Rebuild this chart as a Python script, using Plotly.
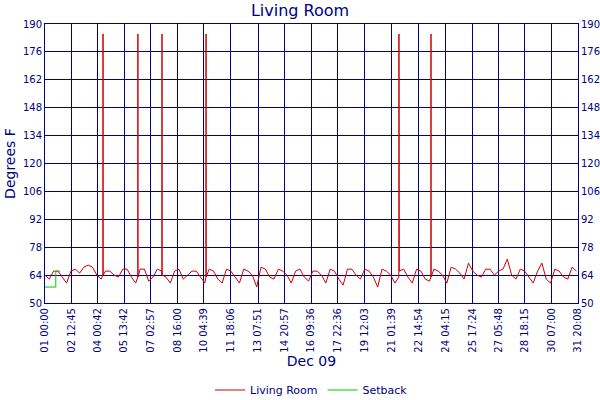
import plotly.graph_objects as go
import pandas as pd

start = pd.Timestamp("2009-12-01 00:00")
# readings every 6 hours (Dec 1 00:00 ... Dec 31 18:00)
temps = [
 64,62,66,66, 63,60,66,67, 65,68,69,68, 64,62,66,66, 64,63,67,67,
 63,60,67,67, 61,63,67,66, 63,60,66,67, 62,64,66,66, 63,60,67,66,
 62,60,67,66, 63,60,67,66, 64,58,68,67, 63,62,67,66, 64,60,66,67,
 63,61,66,66, 64,60,67,66, 62,59,67,67, 64,62,67,66, 63,58,67,66,
 64,60,66,67, 63,60,67,66, 62,61,67,66, 64,60,68,67, 65,62,70,66,
 64,63,67,67, 64,66,67,72, 64,62,67,66, 63,60,66,70, 62,60,67,66,
 63,62,68,66,
]
times = [start + pd.Timedelta(hours=6*i) for i in range(len(temps))]

spike_times = ["2009-12-04 08:36", "2009-12-06 09:00", "2009-12-07 18:30",
               "2009-12-10 07:40", "2009-12-21 11:30", "2009-12-23 08:00"]
spike_values = [185, 185, 185, 185, 185, 185]
spike_base = [64, 63, 64, 63, 63, 63]

xs = [(t, v) for t, v in zip(times, temps)]
for st, sv, sb in zip(spike_times, spike_values, spike_base):
    t = pd.Timestamp(st)
    xs += [(t - pd.Timedelta(minutes=10), sb), (t, sv), (t + pd.Timedelta(minutes=10), sb)]
xs.sort(key=lambda p: p[0])

setback_times = ["2009-12-01 00:00", "2009-12-01 15:00", "2009-12-01 15:00", "2009-12-01 21:00"]
setback_values = [58, 58, 66, 66]

tick_labels = ["01 00:00","02 12:45","04 00:42","05 13:42","07 02:57","08 16:00","10 04:39",
               "11 18:06","13 07:51","14 20:57","16 09:36","17 22:36","19 12:03","21 01:39",
               "22 14:54","24 04:15","25 17:24","27 05:48","28 18:15","30 07:00","31 20:08"]
tick_vals = [pd.Timestamp("2009-12-" + l[:2] + " " + l[3:]) for l in tick_labels]
yticks = [50, 64, 78, 92, 106, 120, 134, 148, 162, 176, 190]

navy = "#000080"
fig = go.Figure()
fig.add_trace(go.Scatter(x=[p[0] for p in xs], y=[p[1] for p in xs], mode="lines",
                         name="Living Room", line=dict(color="#cc0000", width=1)))
fig.add_trace(go.Scatter(x=pd.to_datetime(setback_times), y=setback_values, mode="lines",
                         name="Setback", line=dict(color="#00cc00", width=1)))
fig.add_trace(go.Scatter(x=[tick_vals[0]], y=[None], yaxis="y2", showlegend=False))

fig.update_layout(
    width=600, height=400, paper_bgcolor="white", plot_bgcolor="white",
    margin=dict(l=45, r=22, t=24, b=97),
    font=dict(family="DejaVu Sans", size=10, color=navy),
    title=dict(text="Living Room", x=0.5, xanchor="center", yref="container", y=0.975,
               yanchor="middle", font=dict(size=16, color=navy)),
    xaxis=dict(range=[tick_vals[0], tick_vals[-1]], tickvals=tick_vals, ticktext=tick_labels,
               tickangle=-90, showgrid=True, gridcolor=navy, gridwidth=1, automargin=False,
               showline=True, linecolor=navy, mirror=True, zeroline=False,
               title=dict(text="Dec 09", font=dict(size=14, color=navy), standoff=4),
               tickfont=dict(size=10, color=navy)),
    yaxis=dict(range=[50, 190], tickvals=yticks, showgrid=True, gridcolor=navy, gridwidth=1,
               automargin=False, showline=True, linecolor=navy, zeroline=False,
               tickfont=dict(size=10, color=navy),
               title=dict(text="Degrees F", font=dict(size=14, color=navy), standoff=4)),
    yaxis2=dict(range=[50, 190], tickvals=yticks, overlaying="y", side="right", showgrid=False,
                automargin=False, tickfont=dict(size=10, color=navy), showline=True, linecolor=navy),
    legend=dict(orientation="h", x=0.5, xanchor="center", yref="container", y=0.025,
                yanchor="middle", font=dict(size=11, color=navy), itemwidth=30),
    showlegend=True,
)
fig.write_html("out.html", post_script="document.body.style.margin='0';",
               config={"displayModeBar": False})
